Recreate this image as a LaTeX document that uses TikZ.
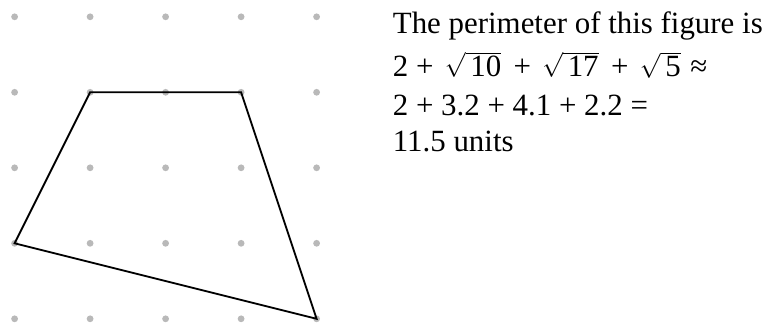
\documentclass[tikz,border=0pt]{standalone}
\usepackage{fontspec}
\setmainfont{Liberation Serif}
\definecolor{dotgray}{RGB}{185,185,185}
\newcommand\myrad[1]{\hspace{0.12em}$\sqrt{\hspace{0.15em}\mbox{#1}}$\hspace{0.15em}}
\begin{document}
\begin{tikzpicture}[x=1pt,y=1pt,
  txt/.style={anchor=base west,inner sep=0pt,font=\fontsize{30.9}{36}\selectfont},
  edge/.style={line width=1.8pt,line join=miter,black}]
\useasboundingbox (0,0) rectangle (770,-322);
\foreach \i in {0,...,4}
  \foreach \j in {0,...,4}
    \fill[dotgray] (14.6+75.5*\i,-16.8-75.5*\j) circle (3.4);
\coordinate (A) at (14.6+75.5*1,-16.8-75.5*1);
\coordinate (B) at (14.6+75.5*3,-16.8-75.5*1);
\coordinate (C) at (14.6+75.5*4,-16.8-75.5*4);
\coordinate (D) at (14.6+75.5*0,-16.8-75.5*3);
\draw[edge] (A) -- (B) -- (C) -- (D) -- cycle;
\node[txt] (l1) at (392.7,-33.3) {The perimeter of this figure is};
\node[txt] (l2) at (392.7,-76.3) {2 + \myrad{10} + \myrad{17} + \myrad{5}\,≈};
\node[txt] (l3) at (392.7,-115) {2 + 3.2 + 4.1 + 2.2 =};
\node[txt] (l4) at (392.7,-151.7) {11.5 units};
\end{tikzpicture}
\end{document}
